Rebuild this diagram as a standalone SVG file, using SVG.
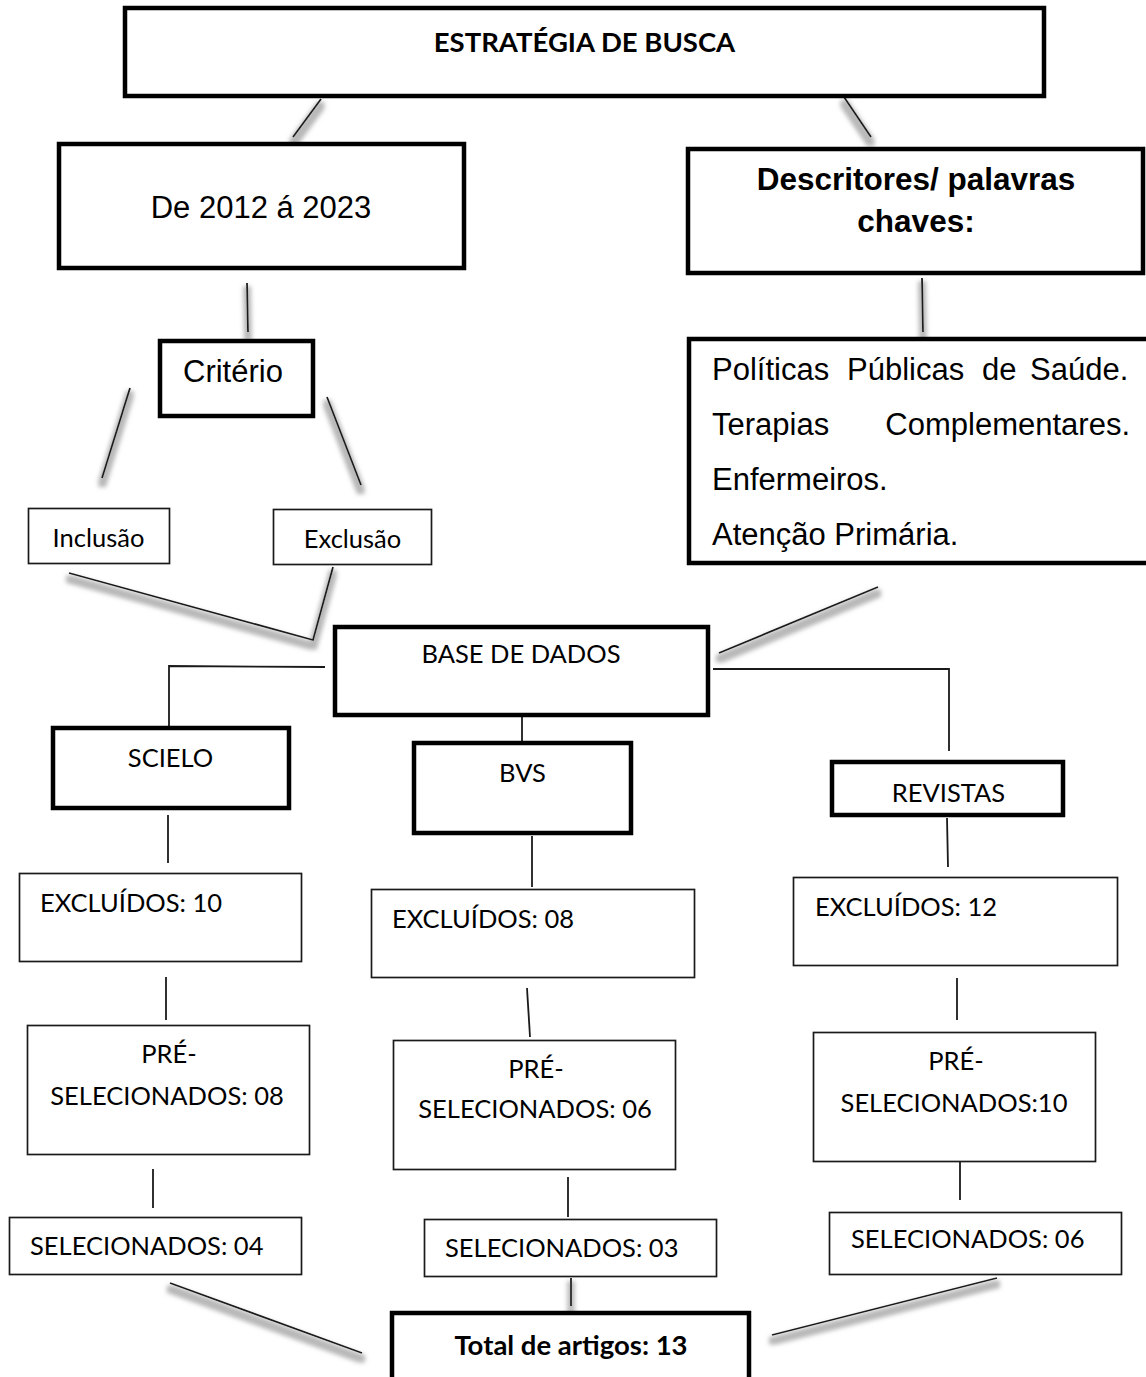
<svg xmlns="http://www.w3.org/2000/svg" width="1146" height="1377" viewBox="0 0 1146 1377">
<style>
.thick{fill:#fff;stroke:#000;stroke-width:4.5}
.thin{fill:#fff;stroke:#1a1a1a;stroke-width:1.7}
.ln{stroke:#1a1a1a;stroke-width:1.8;fill:none}
.sh{filter:url(#shadow)}
.cal{font-family:Lato,"Liberation Sans",sans-serif;font-size:25.5px;fill:#000}
.calb{font-family:Lato,"Liberation Sans",sans-serif;font-size:27.5px;font-weight:bold;fill:#000}
.ar{font-family:"Liberation Sans",Arial,sans-serif;font-size:31px;fill:#000}
.arb{font-family:"Liberation Sans",Arial,sans-serif;font-size:31.5px;font-weight:bold;fill:#000}
.mid{text-anchor:middle}
</style>
<defs>
<filter id="shadow" filterUnits="userSpaceOnUse" x="0" y="0" width="1146" height="1377">
<feMorphology in="SourceAlpha" operator="dilate" radius="2.5" result="d"/>
<feOffset in="d" dx="0" dy="6" result="o"/>
<feGaussianBlur in="o" stdDeviation="2.2" result="b"/>
<feFlood flood-color="#a0a0a0" flood-opacity="0.75"/>
<feComposite in2="b" operator="in" result="s"/>
<feMerge><feMergeNode in="s"/><feMergeNode in="SourceGraphic"/></feMerge>
</filter>
</defs>
<rect width="1146" height="1377" fill="#fff"/>
<g id="connectors">
<line class="ln sh" x1="321" y1="99" x2="293" y2="137"/>
<line class="ln sh" x1="844" y1="97" x2="871" y2="137"/>
<line class="ln sh" x1="247" y1="283" x2="248" y2="332"/>
<line class="ln sh" x1="922" y1="278" x2="923" y2="332"/>
<line class="ln sh" x1="130" y1="388" x2="102" y2="478"/>
<line class="ln sh" x1="327" y1="397" x2="361" y2="485"/>
<polyline class="ln sh" points="69,573 313,640 333,567"/>
<line class="ln sh" x1="719" y1="653" x2="878" y2="587"/>
<polyline class="ln" points="325,667 169,666 169,730"/>
<polyline class="ln" points="713,669 949,669 949,751"/>
<line class="ln" x1="522" y1="717" x2="522" y2="741"/>
<line class="ln" x1="168" y1="815" x2="168" y2="863"/>
<line class="ln" x1="532" y1="836" x2="532" y2="887"/>
<line class="ln" x1="947" y1="818" x2="948" y2="867"/>
<line class="ln" x1="166" y1="977" x2="166" y2="1020"/>
<line class="ln" x1="527" y1="988" x2="530" y2="1037"/>
<line class="ln" x1="957" y1="978" x2="957" y2="1020"/>
<line class="ln" x1="153" y1="1169" x2="153" y2="1208"/>
<line class="ln" x1="568" y1="1177" x2="568" y2="1217"/>
<line class="ln" x1="960" y1="1162" x2="960" y2="1200"/>
<line class="ln sh" x1="571" y1="1278" x2="571" y2="1306"/>
<line class="ln sh" x1="170" y1="1283" x2="362" y2="1353"/>
<line class="ln sh" x1="772" y1="1335" x2="997" y2="1278"/>
</g>
<g id="estrategia">
<rect class="thick" x="125" y="8" width="919" height="88"/>
<text class="calb mid" x="584.5" y="52">ESTRATÉGIA DE BUSCA</text>
</g>
<g id="periodo">
<rect class="thick" x="59" y="144" width="405" height="124"/>
<text class="ar mid" x="261" y="218">De 2012 á 2023</text>
</g>
<g id="descritores">
<rect class="thick" x="688" y="149" width="455" height="124"/>
<text class="arb mid" x="916" y="190">Descritores/ palavras</text>
<text class="arb mid" x="916" y="232">chaves:</text>
</g>
<g id="criterio">
<rect class="thick" x="160" y="341" width="153" height="75"/>
<text class="ar" x="183" y="382">Critério</text>
</g>
<g id="palavras">
<rect class="thick" x="689" y="339" width="470" height="224"/>
<text class="ar" y="380"><tspan x="712">Políticas</tspan><tspan x="847">Públicas</tspan><tspan x="982">de</tspan><tspan x="1030">Saúde.</tspan></text>
<text class="ar" y="435"><tspan x="712">Terapias</tspan><tspan x="1130" text-anchor="end">Complementares.</tspan></text>
<text class="ar" x="712" y="490">Enfermeiros.</text>
<text class="ar" x="712" y="545">Atenção Primária.</text>
</g>
<g id="inclusao">
<rect class="thin" x="28.5" y="508.5" width="141" height="55"/>
<text class="cal mid" x="98.5" y="547">Inclusão</text>
</g>
<g id="exclusao">
<rect class="thin" x="273.5" y="509.5" width="158" height="55"/>
<text class="cal mid" x="352.5" y="548">Exclusão</text>
</g>
<g id="base">
<rect class="thick" x="335" y="627" width="373" height="88"/>
<text class="cal mid" x="521" y="663">BASE DE DADOS</text>
</g>
<g id="scielo">
<rect class="thick" x="53" y="728" width="236" height="80"/>
<text class="cal mid" x="170.5" y="767">SCIELO</text>
</g>
<g id="bvs">
<rect class="thick" x="414" y="743" width="217" height="90"/>
<text class="cal mid" x="522.5" y="782">BVS</text>
</g>
<g id="revistas">
<rect class="thick" x="832" y="762" width="231" height="53"/>
<text class="cal mid" x="948.5" y="802">REVISTAS</text>
</g>
<g id="excl-scielo">
<rect class="thin" x="19.5" y="873.5" width="282" height="88"/>
<text class="cal" x="40" y="912">EXCLUÍDOS: 10</text>
</g>
<g id="excl-bvs">
<rect class="thin" x="371.5" y="889.5" width="323" height="88"/>
<text class="cal" x="392" y="928">EXCLUÍDOS: 08</text>
</g>
<g id="excl-revistas">
<rect class="thin" x="793.5" y="877.5" width="324" height="88"/>
<text class="cal" x="815" y="916">EXCLUÍDOS: 12</text>
</g>
<g id="pre-scielo">
<rect class="thin" x="27.5" y="1025.5" width="282" height="129"/>
<text class="cal mid" x="169" y="1063">PRÉ-</text>
<text class="cal mid" x="167" y="1105">SELECIONADOS: 08</text>
</g>
<g id="pre-bvs">
<rect class="thin" x="393.5" y="1040.5" width="282" height="129"/>
<text class="cal mid" x="536" y="1078">PRÉ-</text>
<text class="cal mid" x="535" y="1118">SELECIONADOS: 06</text>
</g>
<g id="pre-revistas">
<rect class="thin" x="813.5" y="1032.5" width="282" height="129"/>
<text class="cal mid" x="956" y="1070">PRÉ-</text>
<text class="cal mid" x="954" y="1112">SELECIONADOS:10</text>
</g>
<g id="sel-scielo">
<rect class="thin" x="9.5" y="1217.5" width="292" height="57"/>
<text class="cal" x="30" y="1255">SELECIONADOS: 04</text>
</g>
<g id="sel-bvs">
<rect class="thin" x="424.5" y="1219.5" width="292" height="57"/>
<text class="cal" x="445" y="1257">SELECIONADOS: 03</text>
</g>
<g id="sel-revistas">
<rect class="thin" x="829.5" y="1212.5" width="292" height="62"/>
<text class="cal" x="851" y="1248">SELECIONADOS: 06</text>
</g>
<g id="total">
<rect class="thick" x="392" y="1313" width="357" height="80"/>
<text class="calb mid" x="571" y="1355">Total de artigos: 13</text>
</g>
</svg>
